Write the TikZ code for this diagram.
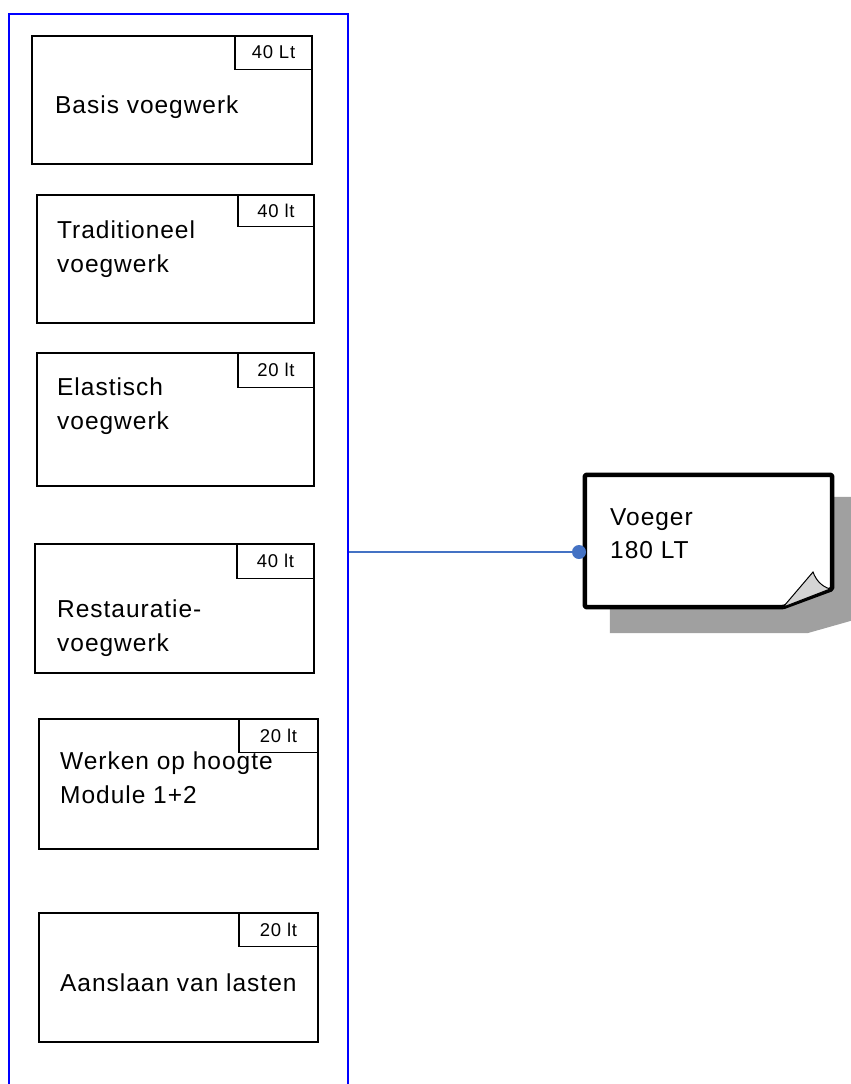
\documentclass[tikz,border=0pt]{standalone}
\usepackage{fontspec}
\setmainfont{Liberation Sans}[LetterSpace=4]
\begin{document}
\begin{tikzpicture}[x=1pt,y=-1pt,
  box/.style={draw=black,line width=1.6pt,rectangle,anchor=north west,inner sep=0pt,minimum height=128pt},
  tag/.style={draw=black,line width=1.2pt,rectangle,anchor=north east,inner sep=0pt,minimum width=77pt,minimum height=34pt,font=\fontsize{18.5}{20}\selectfont},
  txt/.style={anchor=west,align=left,inner sep=0pt,font=\fontsize{24.5}{34}\selectfont},
  wire/.style={draw=connblue,line width=1.8pt}]
\definecolor{connblue}{HTML}{4472C4}
\definecolor{shadowgray}{HTML}{A0A0A0}
\definecolor{foldgray}{HTML}{D4D4D4}
\useasboundingbox (0,0) rectangle (851,1084);
\clip (0,0) rectangle (851,1084);
\fill[white] (0,0) rectangle (851,1084);
% container
\node[draw=blue,line width=1.8pt,rectangle,anchor=north west,inner sep=0pt,minimum width=339pt,minimum height=1120pt] (container) at (8,13) {};
% boxes
\node[box,minimum width=280pt,minimum height=128pt] (b1) at (31,35) {};
\node[tag] (t1) at (b1.north east) {40 Lt};
\node[txt] (x1) at (55,107) {Basis voegwerk};
\node[box,minimum width=277pt,minimum height=128pt] (b2) at (36,194) {};
\node[tag,minimum width=76pt,minimum height=32pt] (t2) at (b2.north east) {40 lt};
\node[txt] (x2) at (57,249) {Traditioneel\\voegwerk};
\node[box,minimum width=277pt,minimum height=133pt] (b3) at (36,352) {};
\node[tag,minimum width=76pt,minimum height=35pt] (t3) at (b3.north east) {20 lt};
\node[txt] (x3) at (57,406) {Elastisch\\voegwerk};
\node[box,minimum width=279pt,minimum height=129pt] (b4) at (34,543) {};
\node[tag,minimum width=77pt,minimum height=35pt] (t4) at (b4.north east) {40 lt};
\node[txt] (x4) at (57,628) {Restauratie-\\voegwerk};
\node[box,minimum width=279pt,minimum height=130pt] (b5) at (38,718) {};
\node[tag,minimum width=79pt,minimum height=34pt] (t5) at (b5.north east) {20 lt};
\node[txt] (x5) at (60,778) {Werken op hoogte\\Module 1+2};
\node[box,minimum width=279pt,minimum height=129pt] (b6) at (38,912) {};
\node[tag,minimum width=79pt,minimum height=34pt] (t6) at (b6.north east) {20 lt};
\node[txt] (x6) at (60,983) {Aanslaan van lasten};
% Voeger note
\node[rectangle,inner sep=0pt,minimum width=247pt,minimum height=132pt] (voeger) at (708.5,541) {};
\fill[shadowgray] ([shift={(25,22)}]voeger.north west) -- ([shift={(28,22)}]voeger.north east) -- ([shift={(28,11)}]voeger.south east) -- (808,633) -- ([shift={(25,26)}]voeger.south west) -- cycle;
\filldraw[fill=white,draw=black,line width=4.5pt,line join=round,rounded corners=1.5pt] (voeger.north west) -- (voeger.north east) -- (voeger.east |- 0,589) -- (voeger.south east -| 783,0) -- (voeger.south west) -- cycle;
\filldraw[fill=foldgray,draw=black,line width=1pt] (voeger.south east -| 783,0) -- (813,572) .. controls (816,580) and (821,586) .. (830,589) -- cycle;
\node[txt,font=\fontsize{24.5}{33}\selectfont] (vt) at (610,534) {Voeger\\180 LT};
% connector
\coordinate (c1) at (container.east |- 0,552);
\coordinate (dot) at (579,552);
\draw[wire] (c1) -- (dot);
\fill[connblue] (dot) circle (7pt);
\end{tikzpicture}
\end{document}
